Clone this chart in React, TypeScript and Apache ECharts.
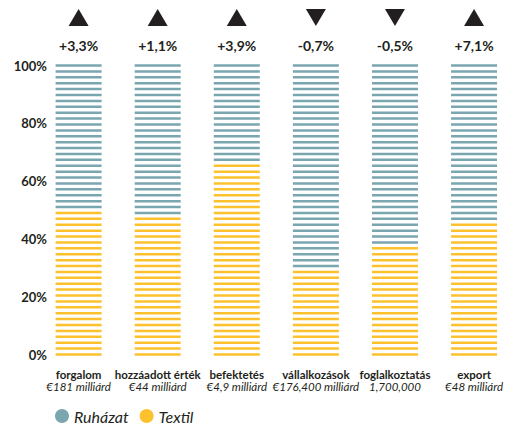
import React, { useEffect, useRef } from "react";
import * as echarts from "echarts";

const categories = ["forgalom", "hozzáadott érték", "befektetés", "vállalkozások", "foglalkoztatás", "export"];
const subtitles = ["€181 milliárd", "€44 milliárd", "€4,9 milliárd", "€176,400 milliárd", "1,700,000", "€48 milliárd"];
const textil = [50, 48, 66, 30, 38, 46];
const ruhazat = [50, 52, 34, 70, 62, 54];
const changes = [3.3, 1.1, 3.9, -0.7, -0.5, 7.1];
const yTicks = [0, 20, 40, 60, 80, 100];

const STRIPES = 50;
const PCT_PER_STRIPE = 100 / STRIPES;
const BLUE = "#7aa6b0";
const YELLOW = "#fdc12e";
const INK = "#231f20";
const FONT = "Lato, 'Open Sans', sans-serif";

function stripeRenderer(color: string) {
  return (params: any, api: any) => {
    const i = api.value(0);
    const startPct = api.value(1);
    const pct = api.value(2);
    const from = Math.round(startPct / PCT_PER_STRIPE);
    const n = Math.round(pct / PCT_PER_STRIPE);
    const step = 100 / (STRIPES - 1);
    const w = 46;
    const h = 2.5;
    const children: any[] = [];
    for (let k = from; k < from + n; k++) {
      const [x, y] = api.coord([i, k * step]);
      children.push({
        type: "rect",
        shape: { x: x - w / 2, y: y - h / 2, width: w, height: h },
        style: { fill: color },
      });
    }
    return { type: "group", children };
  };
}

export default function App() {
  const ref = useRef<HTMLDivElement>(null);
  useEffect(() => {
    document.body.style.margin = "0";
    const chart = echarts.init(ref.current!, null, { renderer: "svg" });
    const textilData = categories.map((_, i) => [i, 0, textil[i]]);
    const ruhazatData = categories.map((_, i) => [i, textil[i], ruhazat[i]]);
    const changeData = categories.map((_, i) => [i, changes[i]]);
    chart.setOption({
      animation: false,
      backgroundColor: "#fff",
      textStyle: { fontFamily: FONT },
      legend: {
        data: ["Ruházat", "Textil"],
        left: 55,
        top: 408,
        padding: 0,
        icon: "circle",
        itemWidth: 14,
        itemHeight: 14,
        itemGap: 11,
        textStyle: { fontFamily: FONT, fontStyle: "italic", fontSize: 16, color: INK },
      },
      grid: { left: 78.6, right: 30.5, top: 65.5, bottom: 72.5 },
      xAxis: {
        type: "category",
        data: categories,
        boundaryGap: false,
        axisLine: { show: false },
        axisTick: { show: false },
        axisLabel: {
          margin: 14,
          interval: 0,
          formatter: (v: string, idx: number) => `{a|${v}}\n{b|${subtitles[idx]}}`,
          rich: {
            a: { fontFamily: FONT, fontWeight: "bold", fontSize: 11.5, color: INK, lineHeight: 12 },
            b: { fontFamily: FONT, fontStyle: "italic", fontSize: 11.5, color: INK, lineHeight: 12 },
          },
        },
      },
      yAxis: {
        type: "value",
        min: 0,
        max: 100,
        interval: 20,
        splitLine: { show: false },
        axisLine: { show: false },
        axisTick: { show: false },
        axisLabel: {
          margin: 31.6,
          formatter: (v: number) => (yTicks.includes(v) ? `${v}%` : ""),
          fontFamily: FONT,
          fontWeight: "bold",
          fontSize: 13,
          color: INK,
        },
      },
      series: [
        {
          name: "Textil",
          type: "custom",
          itemStyle: { color: YELLOW },
          data: textilData,
          renderItem: stripeRenderer(YELLOW),
        },
        {
          name: "Ruházat",
          type: "custom",
          itemStyle: { color: BLUE },
          data: ruhazatData,
          renderItem: stripeRenderer(BLUE),
        },
        {
          name: "change",
          type: "custom",
          data: changeData,
          renderItem: (params: any, api: any) => {
            const i = api.value(0);
            const c = api.value(1);
            const [x, top] = api.coord([i, 100]);
            const ty = top - 48;
            const up = c >= 0;
            const points = up
              ? [[x - 10, ty + 8.5], [x + 10, ty + 8.5], [x, ty - 8.5]]
              : [[x - 10, ty - 8.5], [x + 10, ty - 8.5], [x, ty + 8.5]];
            const label = (up ? "+" : "-") + Math.abs(c).toFixed(1).replace(".", ",") + "%";
            return {
              type: "group",
              children: [
                { type: "polygon", shape: { points }, style: { fill: INK } },
                {
                  type: "text",
                  x,
                  y: top - 20,
                  style: {
                    text: label,
                    fill: INK,
                    font: `bold 14px ${FONT}`,
                    align: "center",
                    verticalAlign: "middle",
                  },
                },
              ],
            };
          },
        },
      ],
    });
    return () => chart.dispose();
  }, []);
  return <div ref={ref} style={{ width: 506, height: 427 }} />;
}
